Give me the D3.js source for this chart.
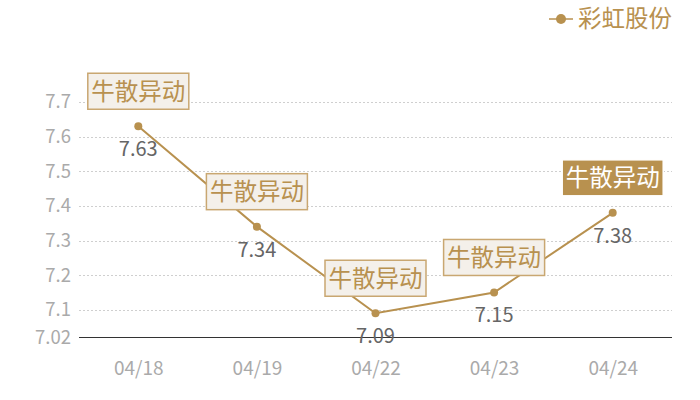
<!DOCTYPE html>
<html>
<head>
<meta charset="utf-8">
<script src="https://cdn.jsdelivr.net/npm/d3@7/dist/d3.min.js"></script>
<style>
html,body{margin:0;padding:0;background:#fff;}
svg{display:block;font-family:"Noto Sans CJK SC","Noto Sans",sans-serif;}
</style>
</head>
<body>
<svg id="chart" width="700" height="400"></svg>
<script>
const categories = ["04/18", "04/19", "04/22", "04/23", "04/24"];
const values = [7.63, 7.34, 7.09, 7.15, 7.38];
const yTicks = [7.02, 7.1, 7.2, 7.3, 7.4, 7.5, 7.6, 7.7];
const seriesName = "彩虹股份";
const annotations = ["牛散异动", "牛散异动", "牛散异动", "牛散异动", "牛散异动"];
const highlighted = [false, false, false, false, true];

const gold = "#b8914f";
const svg = d3.select("#chart");
const plotBottom = 337.5;
const x = d3.scalePoint().domain(categories).range([79, 672]).padding(0.5);
const y = d3.scaleLinear().domain([7.02, 7.7]).range([plotBottom, 102]);

// grid lines
svg.append("g").selectAll("line").data(yTicks.filter(t => t !== 7.02)).join("line")
  .attr("x1", 79).attr("x2", 672)
  .attr("y1", d => Math.round(y(d)) + 0.5).attr("y2", d => Math.round(y(d)) + 0.5)
  .attr("stroke", "#cfcfcf").attr("stroke-dasharray", "2,2").attr("stroke-width", 1);

// y axis
const yAxis = d3.axisLeft(y).tickValues(yTicks).tickSize(0).tickPadding(8)
  .tickFormat(d => d === 7.02 ? "7.02" : d3.format(".1f")(d));
const gy = svg.append("g").attr("transform", "translate(79,0)").call(yAxis);
gy.select(".domain").remove();
gy.selectAll("text").attr("fill", "#aaaaaa").attr("font-size", 18.5)
  .attr("font-family", "'Noto Sans CJK SC','Noto Sans',sans-serif");

// x axis
const xAxis = d3.axisBottom(x).tickSize(0).tickPadding(24);
const gx = svg.append("g").attr("transform", `translate(0,${plotBottom})`).call(xAxis);
gx.select(".domain").attr("d", "M79,0H672").attr("stroke", "#333").attr("stroke-width", 1.2);
gx.selectAll("text").attr("fill", "#aaaaaa").attr("font-size", 19)
  .attr("font-family", "'Noto Sans CJK SC','Noto Sans',sans-serif");

const data = categories.map((c, i) => ({c, v: values[i], a: annotations[i], h: highlighted[i]}));

// line
svg.append("path").datum(data)
  .attr("fill", "none").attr("stroke", gold).attr("stroke-width", 2)
  .attr("d", d3.line().x(d => x(d.c)).y(d => y(d.v)));

// points
svg.append("g").selectAll("circle").data(data).join("circle")
  .attr("cx", d => x(d.c)).attr("cy", d => y(d.v)).attr("r", 4).attr("fill", gold);

// value labels
svg.append("g").selectAll("text").data(data).join("text")
  .attr("x", d => x(d.c)).attr("y", d => y(d.v) + 30)
  .attr("text-anchor", "middle").attr("font-size", 20).attr("fill", "#666")
  .text(d => d.v.toFixed(2));

// annotation boxes
const ann = svg.append("g").selectAll("g").data(data).join("g")
  .attr("transform", d => `translate(${x(d.c)},${y(d.v) - 35})`);
ann.append("rect")
  .attr("x", -50.5).attr("y", -18).attr("width", 101).attr("height", 36)
  .attr("fill", d => d.h ? gold : "#f4f0ea")
  .attr("stroke", d => d.h ? "#fff" : "#c9a771").attr("stroke-width", 1.5);
ann.append("text")
  .attr("x", 0).attr("y", 0).attr("dy", "0.36em")
  .attr("text-anchor", "middle").attr("font-size", 23.5)
  .attr("fill", d => d.h ? "#fff" : gold)
  .text(d => d.a);

// legend
const lg = svg.append("g").attr("transform", "translate(549,19)");
lg.append("line").attr("x1", 0).attr("x2", 24).attr("y1", 0).attr("y2", 0)
  .attr("stroke", gold).attr("stroke-width", 1.5);
lg.append("circle").attr("cx", 12).attr("cy", 0).attr("r", 5).attr("fill", gold);
lg.append("text").attr("x", 29).attr("y", 0).attr("dy", "0.36em")
  .attr("font-size", 23.5).attr("fill", gold).text(seriesName);
</script>
</body>
</html>
